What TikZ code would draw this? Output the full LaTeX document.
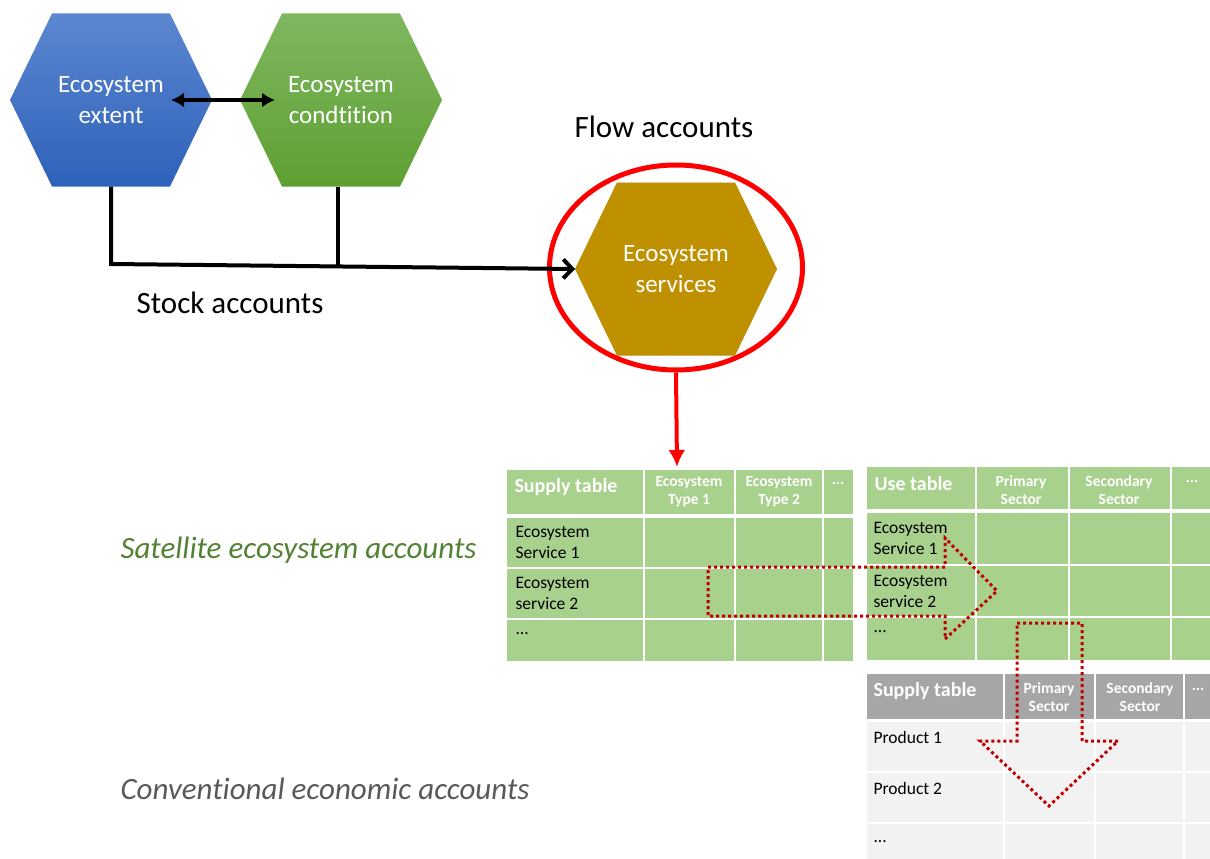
\documentclass[tikz,border=0pt]{standalone}
\usepackage{fontspec}
\setmainfont{Carlito}[Ligatures=CommonOff]
\usetikzlibrary{arrows.meta,shapes.geometric}
\definecolor{tgreen}{HTML}{A9D18E}
\definecolor{tgrayh}{HTML}{A6A6A6}
\definecolor{tgrayb}{HTML}{F2F2F2}
\definecolor{dred}{HTML}{C00000}
\definecolor{gold}{HTML}{BF9000}
\definecolor{satgreen}{HTML}{548235}
\definecolor{convgray}{HTML}{595959}
\newcommand{\hexof}[1]{(#1.west) -- ([xshift=42pt]#1.north west) -- ([xshift=-42pt]#1.north east) -- (#1.east) -- ([xshift=-42pt]#1.south east) -- ([xshift=42pt]#1.south west) -- cycle}
\tikzset{
  hexbox/.style={minimum width=202pt, minimum height=173pt, inner sep=0pt, outer sep=0pt},
  hextext/.style={text=white, align=center, font=\fontsize{25}{31}\selectfont},
  bigtext/.style={font=\fontsize{31}{36}\selectfont},
  sidetext/.style={anchor=west, font=\fontsize{31}{36}\selectfont\itshape},
  thead/.style={text=white, anchor=west, font=\fontsize{20}{24}\selectfont\bfseries},
  tcol/.style={text=white, align=center, font=\fontsize{15.5}{18}\selectfont\bfseries},
  trow/.style={anchor=west, align=left, font=\fontsize{17.5}{21}\selectfont},
  sepw/.style={white, line width=2pt},
  seph/.style={white, line width=4pt},
  dotarrow/.style={dred, line width=3pt, dash pattern=on 3pt off 3pt},
}
\begin{document}
\begin{tikzpicture}[x=1pt,y=-1pt]
\useasboundingbox (0,0) rectangle (1210,859);

% ---- hexagons ----
\node[hexbox] (ext) at (111,100) {};
\node[hexbox] (cond) at (341,100) {};
\node[hexbox] (serv) at (676,269) {};
\shade[top color={rgb,255:red,92;green,135;blue,208}, bottom color={rgb,255:red,46;green,97;blue,186}] \hexof{ext};
\shade[top color={rgb,255:red,127;green,184;blue,96}, bottom color={rgb,255:red,94;green,159;blue,50}] \hexof{cond};
\begin{scope}[shift={(3,3)}]
\fill[black, opacity=0.15] \hexof{serv};
\end{scope}
\fill[gold] \hexof{serv};
\node[hextext] (extT) at (ext) {Ecosystem\\extent};
\node[hextext] (condT) at (cond) {Ecosystem\\condtition};
\node[hextext] (servT) at (serv) {Ecosystem\\services};

% ---- labels ----
\node[bigtext] (flow) at (664,127) {Flow accounts};
\node[bigtext] (stock) at (230,303) {Stock accounts};
\node[sidetext, text=satgreen] (sat) at (117,550) {Satellite ecosystem accounts};
\node[sidetext, text=convgray] (conv) at (117,789) {Conventional economic accounts};

% ---- red ring ----
\node[ellipse, draw=red, line width=5pt, minimum width=253pt, minimum height=205pt, inner sep=0pt] (ring) at (676,267.5) {};

% ---- connectors ----
\draw[line width=4pt, {Latex[length=13pt,width=15pt]}-{Latex[length=13pt,width=15pt]}]
  ([xshift=-41pt]ext.east) -- ([xshift=35pt]cond.west);
\coordinate (j1) at (111,264);
\coordinate (j2) at (338,266.4);
\draw[line width=4pt, line join=miter, -{Straight Barb[length=9pt,width=19pt]}]
  (ext.south) -- (j1) -- (serv.west);
\draw[line width=4pt] ([xshift=-3pt]cond.south) -- (j2);

% ---- satellite supply table ----
\fill[tgreen] (507,470) rectangle (853,661);
\draw[seph] (507,515.5) -- (853,515.5);
\draw[sepw] (507,567.5) -- (853,567.5);
\draw[sepw] (507,618.5) -- (853,618.5);
\foreach \x in {643.5,734.5,823} \draw[sepw] (\x,470) -- (\x,661);
\node[thead] (st) at (511,487) {Supply table};
\node[tcol] (st1) at (689,492) {Ecosystem\\Type 1};
\node[tcol] (st2) at (779,492) {Ecosystem\\Type 2};
\node[tcol] (st3) at (838,483) {...};
\node[trow] (sr1) at (512,542) {Ecosystem\\Service 1};
\node[trow] (sr2) at (512,593) {Ecosystem\\service 2};
\node[trow] (sr3) at (512,634) {...};

\coordinate (rt) at (677,467);
\draw[red, line width=4pt, -{Latex[length=17pt,width=17pt]}] (ring.south) -- (rt);

% ---- use table ----
\fill[tgreen] (867,467) rectangle (1210,660);
\draw[seph] (867,510.5) -- (1210,510.5);
\draw[sepw] (867,564.5) -- (1210,564.5);
\draw[sepw] (867,617) -- (1210,617);
\foreach \x in {975.5,1069,1170.5} \draw[sepw] (\x,467) -- (\x,660);
\node[thead] (ut) at (871,484) {Use table};
\node[tcol] (ut1) at (1021,490) {Primary\\Sector};
\node[tcol] (ut2) at (1119,490) {Secondary\\Sector};
\node[tcol] (ut3) at (1192,481) {...};
\node[trow] (ur1) at (870,538) {Ecosystem\\Service 1};
\node[trow] (ur2) at (870,591) {Ecosystem\\service 2};
\node[trow] (ur3) at (870,632) {...};

% ---- conventional supply table ----
\fill[tgrayh] (867,674) rectangle (1210,719);
\fill[tgrayb] (867,722) rectangle (1210,859);
\draw[sepw] (867,772) -- (1210,772);
\draw[sepw] (867,823) -- (1210,823);
\foreach \x in {1003.5,1095,1184} \draw[sepw] (\x,674) -- (\x,859);
\node[thead] (ct) at (870,691) {Supply table};
\node[tcol] (ct1) at (1049,697) {Primary\\Sector};
\node[tcol] (ct2) at (1140,697) {Secondary\\Sector};
\node[tcol] (ct3) at (1198,689) {...};
\node[trow] (cr1) at (870,737) {Product 1};
\node[trow] (cr2) at (870,788) {Product 2};
\node[trow] (cr3) at (870,842) {...};

% ---- dotted block arrows ----
\draw[dotarrow] (708,567) -- (945,567) -- (945,538) -- (997,591) -- (945,639) -- (945,616) -- (708,616) -- cycle;
\draw[dotarrow] (1017,623) -- (1082,623) -- (1082,741) -- (1118,741) -- (1049,806) -- (980,741) -- (1017,741) -- cycle;

\end{tikzpicture}
\end{document}
